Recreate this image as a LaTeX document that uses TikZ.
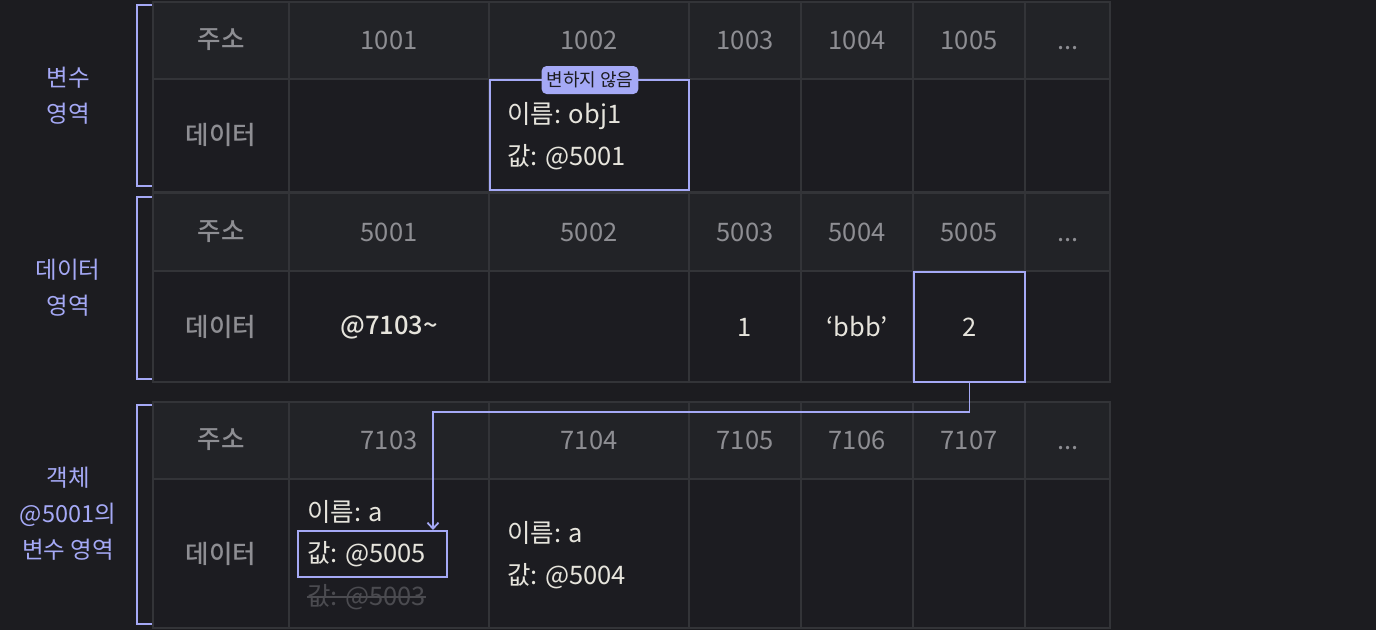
\documentclass[tikz,border=0pt]{standalone}
\usepackage{fontspec}
\setmainfont{Noto Sans CJK KR}
\newfontfamily\medfont{Noto Sans CJK KR Medium}
\usetikzlibrary{arrows.meta}
\definecolor{bgc}{HTML}{1C1C20}
\definecolor{hdrc}{HTML}{222327}
\definecolor{datac}{HTML}{1C1C21}
\definecolor{gridc}{HTML}{333438}
\definecolor{lav}{HTML}{A5A9F6}
\definecolor{greyt}{HTML}{8E8E93}
\definecolor{whitet}{HTML}{E6E4DC}
\definecolor{dimt}{HTML}{4B4B50}
\tikzset{
  hdr/.style={text=greyt, font=\fontsize{25.5}{28}\selectfont, inner sep=0pt},
  lbl/.style={text=greyt, font=\fontsize{25.5}{28}\selectfont\medfont, inner sep=0pt},
  val/.style={text=whitet, font=\fontsize{25.5}{28}\selectfont, inner sep=0pt},
  lval/.style={text=whitet, font=\fontsize{25.5}{28}\selectfont, inner sep=0pt, anchor=west},
  dimv/.style={text=dimt, font=\fontsize{25.5}{28}\selectfont, inner sep=0pt, anchor=west},
  area/.style={text=lav, font=\fontsize{23.5}{36}\selectfont, align=center, inner sep=0pt},
  brk/.style={draw=lav, line width=2pt},
  hl/.style={draw=lav, line width=2pt},
  tag/.style={fill=lav, rounded corners=5pt, text=bgc, font=\fontsize{18}{20}\selectfont, inner xsep=5pt, inner ysep=0pt, minimum height=28pt},
  conn/.style={draw=lav, line width=1.8pt, -{Straight Barb[length=6pt,width=11pt,line width=1.8pt]}},
  gridl/.style={draw=gridc, line width=2pt}
}
\begin{document}
\begin{tikzpicture}[x=1pt,y=-1pt]
\useasboundingbox (0,0) rectangle (1376,630);
\fill[bgc] (0,0) rectangle (1376,630);
% table fills
\foreach \t/\b/\m in {2/192/79, 193/382/271, 402/628/479}{
  \fill[hdrc] (153,\t) rectangle (1110,\m);
  \fill[datac] (153,\m) rectangle (1110,\b);
  \draw[gridl] (153,\t) rectangle (1110,\b);
  \draw[gridl] (153,\m) -- (1110,\m);
  \foreach \x in {289,489,689,801,913,1025}{
    \draw[gridl] (\x,\t) -- (\x,\b);
  }
}
% brackets
\draw[brk] (152,5) -- (137,5) -- (137,186) -- (152,186);
\draw[brk] (152,197) -- (137,197) -- (137,379) -- (152,379);
\draw[brk] (152,405) -- (137,405) -- (137,624) -- (152,624);
% area labels
\node[area] (a1) at (68,96) {변수\\영역};
\node[area] (a2) at (68,288) {데이터\\영역};
\node[area] (a3) at (68,514) {객체\\@5001의\\변수 영역};
% table 1
\node[lbl] (t1h) at (221,40) {주소};
\node[hdr] (t1c1) at (389,40) {1001};
\node[hdr] (t1c2) at (589,40) {1002};
\node[hdr] (t1c3) at (745,40) {1003};
\node[hdr] (t1c4) at (857,40) {1004};
\node[hdr] (t1c5) at (969,40) {1005};
\node[hdr] (t1c6) at (1068,40) {\vphantom{0}...};
\node[lbl] (t1d) at (221,135) {데이터};
\node[hl, minimum width=199pt, minimum height=110pt, inner sep=0pt] (box1) at (589.5,135) {};
\node[lval] (n1) at (507,116) {이름: obj1};
\node[lval] (v1) at (507,157) {값: @5001};
\node[tag] (tag1) at (590,80) {변하지 않음};
% table 2
\node[lbl] (t2h) at (221,232) {주소};
\node[hdr] (t2c1) at (389,232) {5001};
\node[hdr] (t2c2) at (589,232) {5002};
\node[hdr] (t2c3) at (745,232) {5003};
\node[hdr] (t2c4) at (857,232) {5004};
\node[hdr] (t2c5) at (969,232) {5005};
\node[hdr] (t2c6) at (1068,232) {\vphantom{0}...};
\node[lbl] (t2d) at (221,327) {데이터};
\node[val, font=\fontsize{25.5}{28}\selectfont\medfont] (d5001) at (389,327) {@7103\textasciitilde};
\node[val] (d5003) at (745,327) {1};
\node[val] (d5004) at (857,327) {‘bbb’};
\node[hl, val, minimum width=111pt, minimum height=110pt] (v5005) at (969.5,327) {2};
% table 3
\node[lbl] (t3h) at (221,440) {주소};
\node[hdr] (t3c1) at (389,440) {7103};
\node[hdr] (t3c2) at (589,440) {7104};
\node[hdr] (t3c3) at (745,440) {7105};
\node[hdr] (t3c4) at (857,440) {7106};
\node[hdr] (t3c5) at (969,440) {7107};
\node[hdr] (t3c6) at (1068,440) {\vphantom{0}...};
\node[lbl] (t3d) at (221,554) {데이터};
\node[lval] (n7103) at (307,512) {이름: a};
\node[hl, text=whitet, font=\fontsize{25.5}{28}\selectfont, anchor=west, inner xsep=9pt, inner ysep=0pt, minimum height=46pt] (r7103) at (297,554) {\makebox[131pt][l]{값: @5005}};
\node[dimv] (s7103) at (307,597) {값: @5003};
\draw[draw=dimt, line width=1.5pt] (s7103.west) -- (s7103.east);
\node[lval] (n7104) at (507,533) {이름: a};
\node[lval] (v7104) at (507,576) {값: @5004};
% connector
\coordinate (bend) at (433,412);
\draw[conn] (v5005.south) |- (bend) -- (bend |- r7103.north);
\end{tikzpicture}
\end{document}
